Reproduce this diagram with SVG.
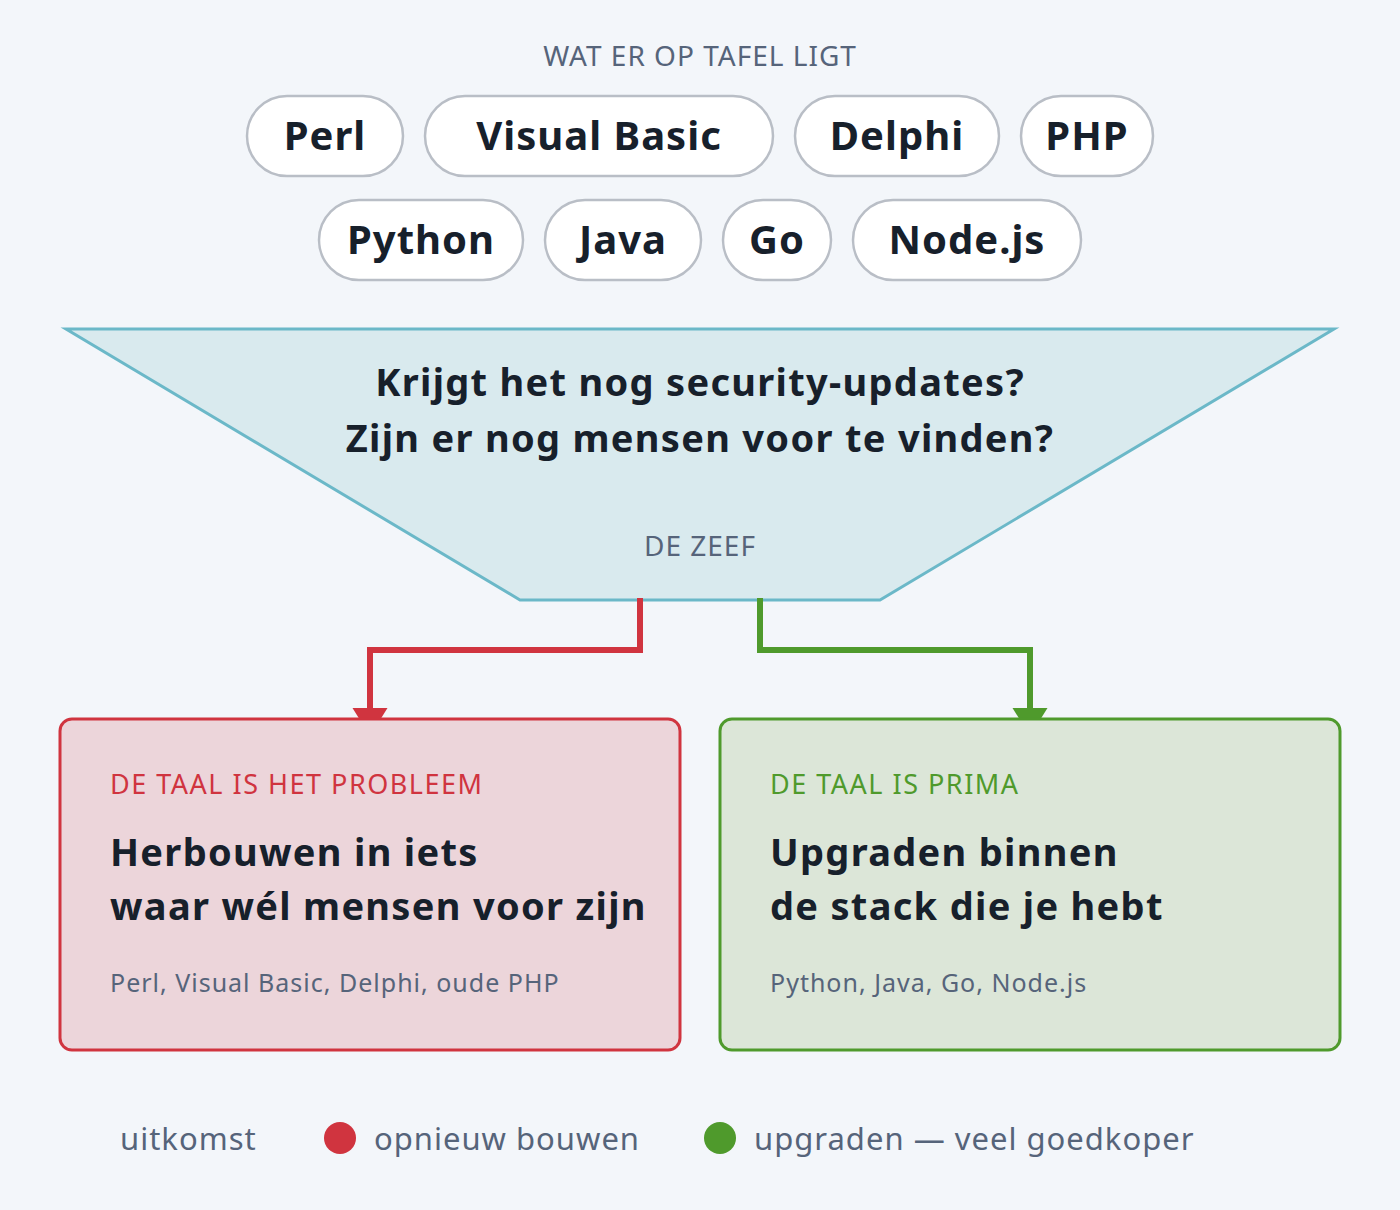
<svg xmlns="http://www.w3.org/2000/svg" width="1400" height="1210" viewBox="0 0 1400 1210">
<style>
text{font-family:"Noto Sans","Open Sans",sans-serif}
.pill rect{fill:#fff;stroke:#b9bec6;stroke-width:2.5}
.pill text{font-size:40px;font-weight:700;fill:#17202b;text-anchor:middle;letter-spacing:1px}
.cap{font-size:28px;fill:#56647a;text-anchor:middle;letter-spacing:1px}
.h{font-size:38px;font-weight:700;fill:#17202b;letter-spacing:1.3px}
.sub{font-size:25px;fill:#56647a;letter-spacing:1px}
.lab{font-size:27px;letter-spacing:1.5px}
.leg{font-size:31px;fill:#56647a;letter-spacing:1px}
</style>
<defs>
<marker id="ar_r" viewBox="0 0 10 8" refX="5" refY="8" markerWidth="36" markerHeight="28" markerUnits="userSpaceOnUse"><path d="M0,0L10,0L5,8Z" fill="#d0343f"/></marker>
<marker id="ar_g" viewBox="0 0 10 8" refX="5" refY="8" markerWidth="36" markerHeight="28" markerUnits="userSpaceOnUse"><path d="M0,0L10,0L5,8Z" fill="#4f9a2c"/></marker>
</defs>
<rect width="1400" height="1210" fill="#f3f6fa"/>
<text class="cap" x="700" y="66">WAT ER OP TAFEL LIGT</text>
<g id="perl" class="pill"><rect x="247" y="96" width="156" height="80" rx="40"/><text x="325" y="150">Perl</text></g>
<g id="vb" class="pill"><rect x="425" y="96" width="348" height="80" rx="40"/><text x="599" y="150">Visual Basic</text></g>
<g id="delphi" class="pill"><rect x="795" y="96" width="204" height="80" rx="40"/><text x="897" y="150">Delphi</text></g>
<g id="php" class="pill"><rect x="1021" y="96" width="132" height="80" rx="40"/><text x="1087" y="150">PHP</text></g>
<g id="python" class="pill"><rect x="319" y="200" width="204" height="80" rx="40"/><text x="421" y="254">Python</text></g>
<g id="java" class="pill"><rect x="545" y="200" width="156" height="80" rx="40"/><text x="623" y="254">Java</text></g>
<g id="go" class="pill"><rect x="723" y="200" width="108" height="80" rx="40"/><text x="777" y="254">Go</text></g>
<g id="node" class="pill"><rect x="853" y="200" width="228" height="80" rx="40"/><text x="967" y="254">Node.js</text></g>
<g id="zeef">
<polygon points="66,329 1334,329 880,600 520,600" fill="#d9eaee" stroke="#6bb8c8" stroke-width="3"/>
<text class="h" x="700" y="396" text-anchor="middle">Krijgt het nog security-updates?</text>
<text class="h" x="700" y="452" text-anchor="middle">Zijn er nog mensen voor te vinden?</text>
<text class="cap" x="700" y="556">DE ZEEF</text>
</g>
<g id="connectors" fill="none" stroke-width="6">
<path d="M640,598V650H370V736" stroke="#d0343f" marker-end="url(#ar_r)"/>
<path d="M760,598V650H1030V736" stroke="#4f9a2c" marker-end="url(#ar_g)"/>
</g>
<g id="rebuild">
<rect x="60" y="719" width="620" height="331" rx="12" fill="#ecd5da" stroke="#d0343f" stroke-width="3"/>
<text class="lab" x="110" y="794" fill="#d0343f">DE TAAL IS HET PROBLEEM</text>
<text class="h" x="110" y="866">Herbouwen in iets</text>
<text class="h" x="110" y="920">waar wél mensen voor zijn</text>
<text class="sub" x="110" y="992">Perl, Visual Basic, Delphi, oude PHP</text>
</g>
<g id="upgrade">
<rect x="720" y="719" width="620" height="331" rx="12" fill="#dce6d8" stroke="#4f9a2c" stroke-width="3"/>
<text class="lab" x="770" y="794" fill="#4f9a2c">DE TAAL IS PRIMA</text>
<text class="h" x="770" y="866">Upgraden binnen</text>
<text class="h" x="770" y="920">de stack die je hebt</text>
<text class="sub" x="770" y="992">Python, Java, Go, Node.js</text>
</g>
<g id="legend">
<text class="leg" x="120" y="1150">uitkomst</text>
<circle cx="340" cy="1138" r="16" fill="#d0343f"/>
<text class="leg" x="374" y="1150">opnieuw bouwen</text>
<circle cx="720" cy="1138" r="16" fill="#4f9a2c"/>
<text class="leg" x="754" y="1150">upgraden — veel goedkoper</text>
</g>
</svg>
